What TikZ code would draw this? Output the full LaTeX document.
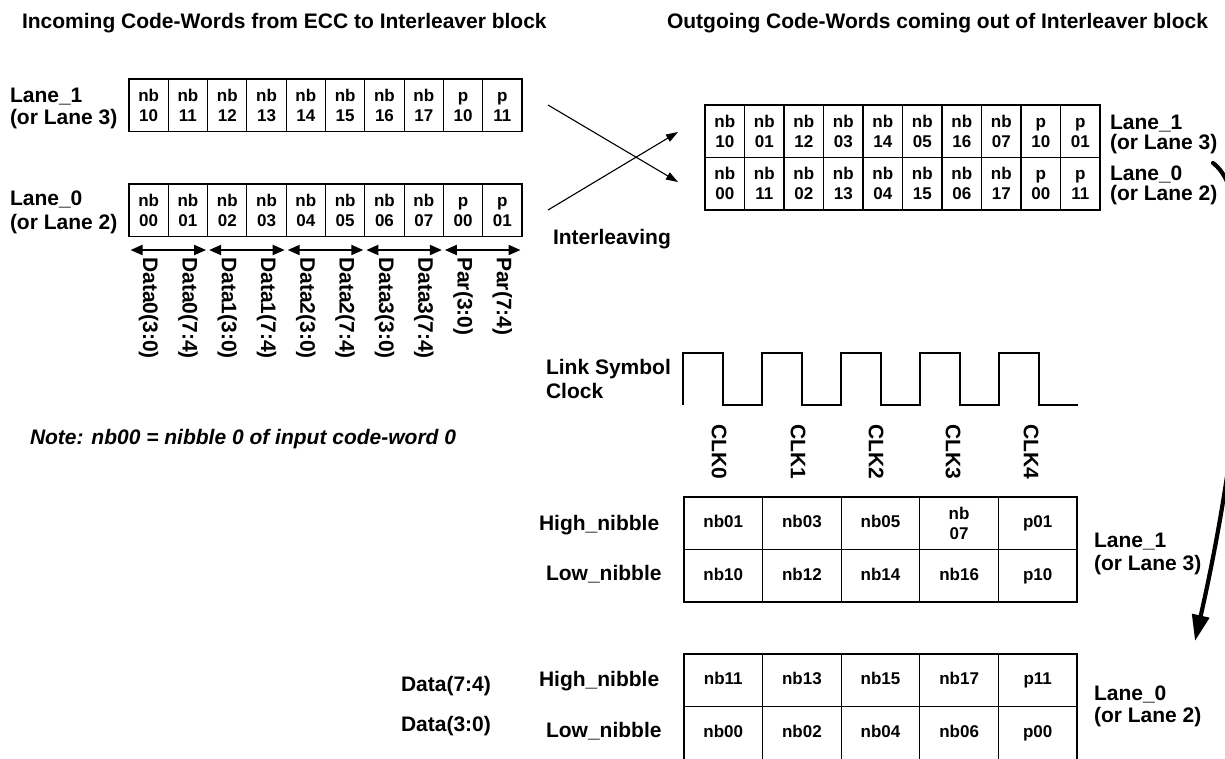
\documentclass[tikz,border=0pt]{standalone}
\usepackage{fontspec}
\setmainfont{Liberation Sans}
\usetikzlibrary{arrows.meta}
\newcommand{\pb}{\vphantom{b}p}
\begin{document}
\begin{tikzpicture}[x=1pt,y=-1pt,
  txt/.style={font=\bfseries\fontsize{21}{22}\selectfont, inner sep=0pt, outer sep=0pt, anchor=base west},
  cellbox/.style={draw, line width=1.1pt, minimum width=#1, minimum height=52.5pt, inner sep=0pt, outer sep=0pt, align=center, font=\bfseries\fontsize{17}{20}\selectfont},
  onel/.style={text height=12.5pt, text depth=3.7pt},
  cellh/.style={minimum height=#1},
  vlbl/.style={font=\bfseries\fontsize{21}{22}\selectfont, inner sep=0pt, rotate=-90, anchor=west},
  darr/.style={line width=2pt, {Triangle[length=12pt,width=10pt]}-{Triangle[length=12pt,width=10pt]}, shorten <=1.5pt, shorten >=1.5pt},
  xarr/.style={line width=1.1pt, -{Triangle[length=12pt,width=8pt]}},
  bigarr/.style={line width=4.2pt, line cap=round, -{Triangle[length=26pt,width=17pt]}},
  clk/.style={line width=1.5pt, line join=miter}
]
\useasboundingbox (0,0) rectangle (1225,758);

% titles
\node[txt] (t1) at (22,28.5) {Incoming Code-Words from ECC to Interleaver block};
\node[txt] (t2) at (667,28.5) {Outgoing Code-Words coming out of Interleaver block};

% left lane labels
\node[txt] (ll1a) at (10,102.3) {Lane\_1};
\node[txt] (ll1b) at (10,124) {(or Lane 3)};
\node[txt] (ll0a) at (10,205.3) {Lane\_0};
\node[txt] (ll0b) at (10,229) {(or Lane 2)};

% incoming tables
\foreach \t [count=\i from 0] in {{nb\\10},{nb\\11},{nb\\12},{nb\\13},{nb\\14},{nb\\15},{nb\\16},{nb\\17},{\pb\\10},{\pb\\11}}
  \node[cellbox=39.3pt] (ia\i) at ({148.65+39.3*\i},105.25) {\t};
\foreach \t [count=\i from 0] in {{nb\\00},{nb\\01},{nb\\02},{nb\\03},{nb\\04},{nb\\05},{nb\\06},{nb\\07},{\pb\\00},{\pb\\01}}
  \node[cellbox=39.3pt] (ib\i) at ({148.65+39.3*\i},210.25) {\t};

% double arrows
\foreach \k in {0,...,5}
  \coordinate (d\k) at ({129+78.6*\k},250);
\foreach \k [evaluate=\k as \n using int(\k+1)] in {0,...,4}
  \draw[darr] (d\k) -- (d\n);

% vertical data labels
\foreach \t [count=\i from 0] in {Data0(3:0),Data0(7:4),Data1(3:0),Data1(7:4),Data2(3:0),Data2(7:4),Data3(3:0),Data3(7:4),Par(3:0),Par(7:4)}
  \node[vlbl] (dl\i) at ({148.65+39.3*\i},257) {\t};

% interleaving crossing arrows
\coordinate (xa1) at (548,105);
\coordinate (xa2) at (678,182);
\coordinate (xb1) at (548,210);
\coordinate (xb2) at (678,132);
\draw[xarr] (xa1) -- (xa2);
\draw[xarr] (xb1) -- (xb2);
\node[txt] (il) at (553,244.3) {Interleaving};

% outgoing table
\foreach \t [count=\i from 0] in {{nb\\10},{nb\\01},{nb\\12},{nb\\03},{nb\\14},{nb\\05},{nb\\16},{nb\\07},{\pb\\10},{\pb\\01}}
  \node[cellbox=39.5pt] (oa\i) at ({724.75+39.5*\i},131.25) {\t};
\foreach \t [count=\i from 0] in {{nb\\00},{nb\\11},{nb\\02},{nb\\13},{nb\\04},{nb\\15},{nb\\06},{nb\\17},{\pb\\00},{\pb\\11}}
  \node[cellbox=39.5pt] (ob\i) at ({724.75+39.5*\i},183.75) {\t};
\node[txt] (rl1a) at (1110,129.3) {Lane\_1};
\node[txt] (rl1b) at (1110,149.3) {(or Lane 3)};
\node[txt] (rl0a) at (1110,180.3) {Lane\_0};
\node[txt] (rl0b) at (1110,200.3) {(or Lane 2)};

% clock
\node[txt] (ls1) at (546,374.3) {Link Symbol};
\node[txt] (ls2) at (546,398.3) {Clock};
\draw[clk] (683,405) -- (683,353) -- (723,353) -- (723,405) -- (762,405)
  -- (762,353) -- (802,353) -- (802,405) -- (841,405)
  -- (841,353) -- (881,353) -- (881,405) -- (920,405)
  -- (920,353) -- (960,353) -- (960,405) -- (999,405)
  -- (999,353) -- (1039,353) -- (1039,405) -- (1078,405);
\foreach \t/\x [count=\i from 0] in {CLK0/719,CLK1/798,CLK2/876,CLK3/953,CLK4/1031}
  \node[vlbl] (ck\i) at (\x,424) {\t};

% note
\node[txt, font=\bfseries\itshape\fontsize{21}{22}\selectfont] (note) at (30,444.3) {Note: nb00 = nibble 0 of input code-word 0};

% lane 1 nibble table
\node[txt] (h1) at (539,530.8) {High\_nibble};
\node[txt] (lo1) at (546,580.8) {Low\_nibble};
\foreach \t [count=\i from 0] in {nb01,nb03,nb05}
  \node[cellbox=78.6pt, onel] (na\i) at ({723.3+78.6*\i},523.25) {\t};
\node[cellbox=78.6pt] (na3) at ({723.3+78.6*3},523.25) {nb\\07};
\node[cellbox=78.6pt, onel] (na4) at ({723.3+78.6*4},523.25) {p01};
\foreach \t [count=\i from 0] in {nb10,nb12,nb14,nb16,p10}
  \node[cellbox=78.6pt, onel] (nb\i) at ({723.3+78.6*\i},575.75) {\t};
\node[txt] (bl1a) at (1094,547.3) {Lane\_1};
\node[txt] (bl1b) at (1094,570.3) {(or Lane 3)};

% lane 0 nibble table
\node[txt] (d74) at (401,691.3) {Data(7:4)};
\node[txt] (d30) at (401,731.8) {Data(3:0)};
\node[txt] (h2) at (539,686.8) {High\_nibble};
\node[txt] (lo2) at (546,737.8) {Low\_nibble};
\foreach \t [count=\i from 0] in {nb11,nb13,nb15,nb17,p11}
  \node[cellbox=78.6pt, onel] (nc\i) at ({723.3+78.6*\i},680.25) {\t};
\foreach \t [count=\i from 0] in {nb00,nb02,nb04,nb06,p00}
  \node[cellbox=78.6pt, onel, cellh=54pt] (nd\i) at ({723.3+78.6*\i},733.5) {\t};
\node[txt] (bl0a) at (1094,700.3) {Lane\_0};
\node[txt] (bl0b) at (1094,722.3) {(or Lane 2)};

% big curved arrow
\coordinate (hs) at (1213,163);
\coordinate (he) at (1195,641);
\draw[bigarr] (hs) .. controls (1263,200) and (1245,420) .. (he);
\end{tikzpicture}
\end{document}
